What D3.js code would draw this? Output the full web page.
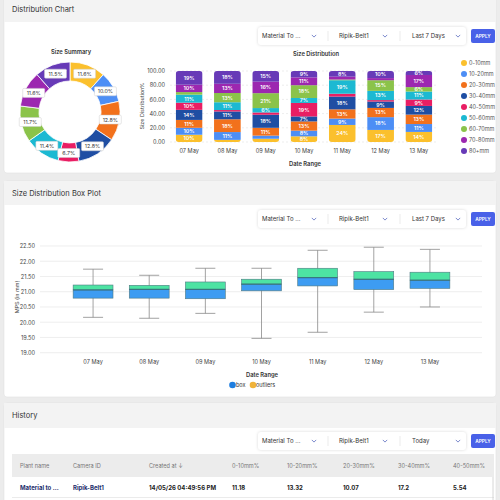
<!DOCTYPE html>
<html>
<head>
<meta charset="utf-8">
<script src="https://cdn.jsdelivr.net/npm/d3@7"></script>
<style>
  body { margin: 0; background: #ececec; font-family: Inter, "Open Sans", sans-serif; }
  svg { display: block; }
</style>
</head>
<body>
<svg id="page" width="500" height="500"></svg>
<script>
// ---- data ----
const dates = ['07 May', '08 May', '09 May', '10 May', '11 May', '12 May', '13 May'];
const sizeBins = ['0-10mm', '10-20mm', '20-30mm', '30-40mm', '40-50mm', '50-60mm', '60-70mm', '70-80mm', '80+mm'];
const binColors = ['#fbc02d', '#4d8ef5', '#f2711c', '#1f4ea3', '#e91e63', '#1cb9d2', '#8bc34a', '#9c27b0', '#673ab7'];

// donut: share of each bin over the whole week (%)
const summaryPct = [11.6, 10.0, 12.8, 12.8, 6.7, 11.4, 11.7, 11.6, 11.5];

// stacked bars: share of each bin per day (%), bottom bin first
const may07 = [10.2, 9.8, 11.1, 14.2, 10.1, 11.3, 3.6, 10.4, 19.3];
const may08 = [3, 11, 18, 11, 2, 11, 13, 13, 18];
const may09 = [4.6, 4.4, 11, 18.4, 3.2, 6.2, 21, 16.2, 15];
const may10 = [8, 8, 13, 7, 19, 7, 18, 11, 9];
const may11 = [24, 9, 13, 18, 4, 19, 1, 4, 8];
const may12 = [17, 18, 13, 9, 2, 13, 15, 3, 10];
const may13 = [14.2, 11.1, 13.3, 12.2, 9.1, 11.2, 6.2, 17.1, 5.6];
const dayShares = [may07, may08, may09, may10, may11, may12, may13];

// box plot (MPS in mm)
const whiskerLow  = [20.16, 20.13, 20.29, 19.47, 19.67, 20.33, 20.50];
const q1          = [20.79, 20.79, 20.77, 21.03, 21.19, 21.07, 21.11];
const median      = [21.06, 21.08, 21.08, 21.25, 21.46, 21.41, 21.38];
const q3          = [21.22, 21.21, 21.32, 21.41, 21.77, 21.66, 21.64];
const whiskerHigh = [21.74, 21.54, 21.77, 21.77, 22.36, 22.46, 22.39];

// history table
const tableHeaders = ['Plant name', 'Camera ID', 'Created at \u2193', '0-10mm%', '10-20mm%', '20-30mm%', '30-40mm%', '40-50mm%'];
const tableRow = ['Material to ...', 'Ripik-Belt1', '14/05/26 04:49:56 PM', '11.18', '13.32', '10.07', '17.2', '5.54'];

const svg = d3.select('#page');
const txt = '#444';

// ---- cards ----
function card(top, bottom, headH, title) {
  svg.append('rect').attr('x', 4).attr('y', top).attr('width', 492).attr('height', bottom - top)
    .attr('rx', 3).attr('fill', '#fff').attr('stroke', '#e2e2e2').attr('stroke-width', 0.6);
  svg.append('rect').attr('x', 4).attr('y', top).attr('width', 492).attr('height', headH)
    .attr('fill', '#f3f3f3');
  svg.append('text').attr('x', 12).attr('y', top + headH / 2 + 2.5)
    .attr('font-size', 7.5).attr('fill', '#333').text(title);
}
card(-4, 173, 26, 'Distribution Chart');
card(181, 397, 24, 'Size Distribution Box Plot');
card(403, 510, 25, 'History');

// ---- filter bars ----
function chevron(x, y) {
  svg.append('path').attr('d', `M${x - 2.2},${y - 1.1} L${x},${y + 1.1} L${x + 2.2},${y - 1.1}`)
    .attr('fill', 'none').attr('stroke', '#5b6cc0').attr('stroke-width', 0.8);
}
function filterBar(cy, period) {
  svg.append('rect').attr('x', 258).attr('y', cy - 9).attr('width', 208).attr('height', 18)
    .attr('rx', 3).attr('fill', '#fff').style('filter', 'drop-shadow(0 0.5px 1.5px rgba(0,0,0,0.15))');
  const items = [['Material To ...', 262, 314], ['Ripik-Belt1', 339, 385], [period, 412, 458]];
  items.forEach(([label, x, cx]) => {
    svg.append('text').attr('x', x).attr('y', cy + 2.2).attr('font-size', 6).attr('fill', '#333').text(label);
    chevron(cx, cy);
  });
  [328, 400].forEach(x => svg.append('line').attr('x1', x).attr('x2', x).attr('y1', cy - 5).attr('y2', cy + 5)
    .attr('stroke', '#ddd').attr('stroke-width', 0.6));
  svg.append('rect').attr('x', 471).attr('y', cy - 7).attr('width', 24).attr('height', 14)
    .attr('rx', 2).attr('fill', '#4961e8');
  svg.append('text').attr('x', 483).attr('y', cy + 1.8).attr('text-anchor', 'middle')
    .attr('font-size', 4.8).attr('font-weight', 600).attr('fill', '#fff').text('APPLY');
}
filterBar(36, 'Last 7 Days');
filterBar(219, 'Last 7 Days');
filterBar(441, 'Today');

// ---- donut ----
const donut = svg.append('g').attr('transform', 'translate(70,112)');
svg.append('text').attr('x', 71).attr('y', 54).attr('text-anchor', 'middle')
  .attr('font-size', 5.8).attr('font-weight', 600).attr('fill', '#333').text('Size Summary');
const pie = d3.pie().sort(null)(summaryPct);
const arc = d3.arc().innerRadius(31).outerRadius(50);
const labelArc = d3.arc().innerRadius(41).outerRadius(41);
donut.selectAll('path').data(pie).join('path')
  .attr('d', arc).attr('fill', (d, i) => binColors[i]).attr('stroke', '#fff').attr('stroke-width', 0.8);
const lab = donut.selectAll('g.lab').data(pie).join('g').attr('class', 'lab')
  .attr('transform', d => `translate(${labelArc.centroid(d)})`);
lab.append('rect').attr('x', -11).attr('y', -4.5).attr('width', 22).attr('height', 9).attr('rx', 1.2)
  .attr('fill', '#fff').attr('stroke', '#ccc').attr('stroke-width', 0.5);
lab.append('text').attr('text-anchor', 'middle').attr('y', 1.9).attr('font-size', 5.3)
  .attr('fill', '#333').text(d => d.data.toFixed(1) + '%');

// ---- stacked bars ----
const bx = d3.scaleBand().domain(dates).range([170, 438]).paddingInner(0.3).paddingOuter(0.15);
const by = d3.scaleLinear().domain([0, 100]).range([142, 71]);
const barG = svg.append('g');
barG.selectAll('line.grid').data(by.ticks(5)).join('line').attr('class', 'grid')
  .attr('x1', 170).attr('x2', 438).attr('y1', d => by(d)).attr('y2', d => by(d))
  .attr('stroke', '#e0e0e0').attr('stroke-width', 0.6).attr('stroke-dasharray', '2,2');
const yAx = barG.append('g').attr('transform', 'translate(168,0)')
  .call(d3.axisLeft(by).ticks(5).tickFormat(d3.format('.2f')).tickSize(0));
yAx.select('.domain').remove();
yAx.selectAll('text').attr('font-size', 5.6).attr('fill', txt).attr('font-family', 'Inter, sans-serif');
const xAx = barG.append('g').attr('transform', 'translate(0,146)')
  .call(d3.axisBottom(bx).tickSize(0));
xAx.select('.domain').remove();
xAx.selectAll('text').attr('font-size', 5.6).attr('fill', txt).attr('font-family', 'Inter, sans-serif');
svg.append('text').attr('transform', 'translate(144,106) rotate(-90)').attr('text-anchor', 'middle')
  .attr('font-size', 5.4).attr('fill', txt).text('Size Distribution%');
svg.append('text').attr('x', 316).attr('y', 56).attr('text-anchor', 'middle')
  .attr('font-size', 5.8).attr('font-weight', 600).attr('fill', '#333').text('Size Distribution');
svg.append('text').attr('x', 305).attr('y', 166).attr('text-anchor', 'middle')
  .attr('font-size', 5.8).attr('font-weight', 600).attr('fill', '#333').text('Date Range');

const defs = svg.append('defs');
dates.forEach((day, di) => {
  const id = 'clip-' + di;
  defs.append('clipPath').attr('id', id).append('rect')
    .attr('x', bx(day)).attr('y', by(100)).attr('width', bx.bandwidth()).attr('height', by(0) - by(100)).attr('rx', 3);
  const g = barG.append('g').attr('clip-path', `url(#${id})`);
  let acc = 0;
  dayShares[di].forEach((v, bi) => {
    const y0 = by(acc), y1 = by(acc + v);
    acc += v;
    g.append('rect').attr('x', bx(day)).attr('y', y1).attr('width', bx.bandwidth()).attr('height', y0 - y1)
      .attr('fill', binColors[bi]);
    if (v >= 5) {
      barG.append('text').attr('x', bx(day) + bx.bandwidth() / 2).attr('y', (y0 + y1) / 2 + 1.9)
        .attr('text-anchor', 'middle').attr('font-size', 5.3).attr('font-weight', 600)
        .attr('fill', '#fff').text(Math.round(v) + '%');
    }
  });
});
const leg = svg.append('g');
sizeBins.forEach((b, i) => {
  const y = 63 + i * 11;
  leg.append('circle').attr('cx', 464).attr('cy', y).attr('r', 3).attr('fill', binColors[i]);
  leg.append('text').attr('x', 469).attr('y', y + 2).attr('font-size', 5.5).attr('fill', '#555').text(b);
});

// ---- box plot ----
const px = d3.scaleBand().domain(dates).range([65, 458]).paddingInner(0.29).paddingOuter(0.145);
const py = d3.scaleLinear().domain([19, 22.5]).range([352.7, 246]);
const boxG = svg.append('g');
const ticks = d3.range(19, 22.51, 0.5);
boxG.selectAll('line.grid').data(ticks).join('line').attr('class', 'grid')
  .attr('x1', 40).attr('x2', 482).attr('y1', d => py(d)).attr('y2', d => py(d))
  .attr('stroke', '#e6e6e6').attr('stroke-width', 0.7);
const pyAx = boxG.append('g').attr('transform', 'translate(38,0)')
  .call(d3.axisLeft(py).tickValues(ticks).tickFormat(d3.format('.2f')).tickSize(0));
pyAx.select('.domain').remove();
pyAx.selectAll('text').attr('font-size', 5.6).attr('fill', txt).attr('font-family', 'Inter, sans-serif');
const pxAx = boxG.append('g').attr('transform', 'translate(0,357)').call(d3.axisBottom(px).tickSize(0));
pxAx.select('.domain').remove();
pxAx.selectAll('text').attr('font-size', 5.6).attr('fill', txt).attr('font-family', 'Inter, sans-serif');
svg.append('text').attr('transform', 'translate(19,297) rotate(-90)').attr('text-anchor', 'middle')
  .attr('font-size', 5.4).attr('fill', txt).text('MPS (in mm)');
svg.append('text').attr('x', 262).attr('y', 377).attr('text-anchor', 'middle')
  .attr('font-size', 5.8).attr('font-weight', 600).attr('fill', '#333').text('Date Range');

dates.forEach((day, i) => {
  const cx = px(day) + px.bandwidth() / 2, w = px.bandwidth();
  boxG.append('line').attr('x1', cx).attr('x2', cx).attr('y1', py(whiskerLow[i])).attr('y2', py(whiskerHigh[i]))
    .attr('stroke', '#8a8a8a').attr('stroke-width', 0.8);
  [whiskerLow[i], whiskerHigh[i]].forEach(v => boxG.append('line')
    .attr('x1', cx - 10).attr('x2', cx + 10).attr('y1', py(v)).attr('y2', py(v))
    .attr('stroke', '#8a8a8a').attr('stroke-width', 0.8));
  boxG.append('rect').attr('x', px(day)).attr('y', py(median[i])).attr('width', w)
    .attr('height', py(q1[i]) - py(median[i])).attr('fill', '#3d9cf2')
    .attr('stroke', '#4f7a82').attr('stroke-width', 0.6);
  boxG.append('rect').attr('x', px(day)).attr('y', py(q3[i])).attr('width', w)
    .attr('height', py(median[i]) - py(q3[i])).attr('fill', '#4de3a3')
    .attr('stroke', '#4f7a82').attr('stroke-width', 0.6);
  boxG.append('line').attr('x1', px(day)).attr('x2', px(day) + w).attr('y1', py(median[i])).attr('y2', py(median[i]))
    .attr('stroke', '#2f6a78').attr('stroke-width', 0.9);
});
[['box', '#1f7ee0', 232.5, 236], ['outliers', '#f0b33a', 253, 256]].forEach(([t, c, x, tx]) => {
  svg.append('circle').attr('cx', x).attr('cy', 385).attr('r', 3.3).attr('fill', c);
  svg.append('text').attr('x', tx).attr('y', 387).attr('font-size', 5.5).attr('fill', '#333').text(t);
});

// ---- history table ----
const colX = [20, 73, 149, 232, 287, 343, 398, 453];
svg.append('rect').attr('x', 12).attr('y', 454).attr('width', 482).attr('height', 23).attr('fill', '#ececec');
svg.append('line').attr('x1', 12).attr('x2', 494).attr('y1', 497.5).attr('y2', 497.5).attr('stroke', '#ddd').attr('stroke-width', 0.6);
svg.append('line').attr('x1', 493).attr('x2', 493).attr('y1', 477).attr('y2', 500).attr('stroke', '#ccc').attr('stroke-width', 0.8);
tableHeaders.forEach((h, i) => svg.append('text').attr('x', colX[i]).attr('y', 468)
  .attr('font-size', 5.6).attr('fill', '#777').text(h));
tableRow.forEach((v, i) => svg.append('text').attr('x', colX[i]).attr('y', 490)
  .attr('font-size', 6).attr('font-weight', 700).attr('fill', i < 2 ? '#1d2d6b' : '#222').text(v));
</script>
</body>
</html>
